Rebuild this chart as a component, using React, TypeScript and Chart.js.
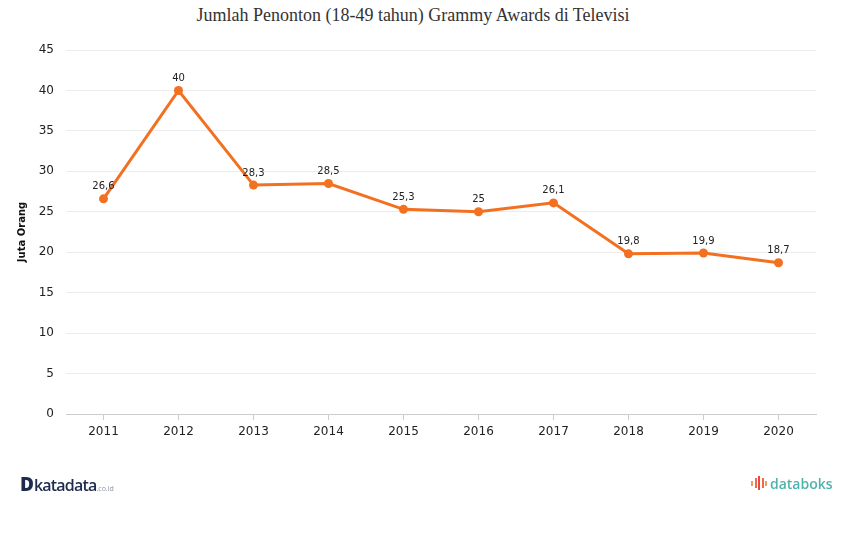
import React, { useEffect, useRef } from "react";
import { Chart, registerables } from "chart.js";

Chart.register(...registerables);

const TITLE = "Jumlah Penonton (18-49 tahun) Grammy Awards di Televisi";
const Y_TITLE = "Juta Orang";
const YEARS = ["2011", "2012", "2013", "2014", "2015", "2016", "2017", "2018", "2019", "2020"];
const VIEWERS = [26.6, 40, 28.3, 28.5, 25.3, 25, 26.1, 19.8, 19.9, 18.7];
const Y_MIN = 0;
const Y_MAX = 45;
const Y_STEP = 5;
const LINE_COLOR = "#f37021";

const labelPlugin = {
  id: "pointLabels",
  afterDatasetsDraw(chart: any) {
    const ctx = chart.ctx;
    const meta = chart.getDatasetMeta(0);
    const data = chart.data.datasets[0].data as number[];
    ctx.save();
    ctx.font = "10px 'DejaVu Sans', Verdana, sans-serif";
    ctx.fillStyle = "#222";
    ctx.textAlign = "center";
    ctx.textBaseline = "middle";
    meta.data.forEach((pt: any, i: number) => {
      const txt = String(data[i]).replace(".", ",");
      ctx.fillText(txt, pt.x, pt.y - 12);
    });
    ctx.restore();
  },
};

export default function App() {
  const canvasRef = useRef<HTMLCanvasElement | null>(null);

  useEffect(() => {
    if (!canvasRef.current) return;
    const chart = new Chart(canvasRef.current, {
      type: "line",
      data: {
        labels: YEARS,
        datasets: [
          {
            data: VIEWERS,
            borderColor: LINE_COLOR,
            backgroundColor: LINE_COLOR,
            borderWidth: 3,
            pointRadius: 4.5,
            pointBackgroundColor: LINE_COLOR,
            pointBorderColor: LINE_COLOR,
            pointBorderWidth: 0,
            tension: 0,
          },
        ],
      },
      options: {
        animation: false,
        responsive: true,
        maintainAspectRatio: false,
        layout: { padding: { top: 50, right: 35, bottom: 82, left: 0 } },
        plugins: {
          legend: { display: false },
          tooltip: { enabled: false },
          title: { display: false },
        },
        scales: {
          x: {
            type: "category",
            offset: true,
            grid: {
              display: true,
              drawOnChartArea: false,
              drawTicks: true,
              tickLength: 6,
              color: "#cccccc",
              offset: false,
            },
            border: { display: true, color: "#cccccc" },
            ticks: {
              color: "#222",
              font: { family: "'DejaVu Sans', Verdana, sans-serif", size: 12 },
              padding: 5,
              maxRotation: 0,
            },
            afterFit: (scale: any) => {
              scale.height = 40;
            },
          },
          y: {
            min: Y_MIN,
            max: Y_MAX,
            ticks: {
              stepSize: Y_STEP,
              color: "#222",
              padding: 12,
              font: { family: "'DejaVu Sans', Verdana, sans-serif", size: 12 },
            },
            grid: { color: "#ececec", drawTicks: false },
            border: { display: false },
            title: {
              display: true,
              text: Y_TITLE,
              color: "#111",
              font: { family: "'DejaVu Sans', Verdana, sans-serif", size: 10, weight: "bold" },
              padding: { top: 16, bottom: 0 },
            },
            afterFit: (scale: any) => {
              scale.width = 66;
            },
          },
        },
      },
      plugins: [labelPlugin],
    });
    return () => chart.destroy();
  }, []);

  return (
    <div
      style={{
        position: "fixed",
        left: 0,
        top: 0,
        width: 851,
        height: 536,
        background: "#fff",
        overflow: "hidden",
      }}
    >
      <div
        style={{
          position: "absolute",
          left: 0,
          width: 826,
          top: 3,
          textAlign: "center",
          fontFamily: "'Liberation Serif', 'Times New Roman', serif",
          fontSize: 18,
          color: "#333",
          lineHeight: "24px",
        }}
      >
        {TITLE}
      </div>
      <div style={{ position: "absolute", left: 0, top: 0, width: 851, height: 536 }}>
        <canvas ref={canvasRef} />
      </div>
      <div
        style={{
          position: "absolute",
          left: 20,
          top: 474,
          display: "flex",
          alignItems: "baseline",
          fontFamily: "'Open Sans', 'DejaVu Sans', sans-serif",
          color: "#1d2b4f",
        }}
      >
        <span style={{ fontWeight: 800, fontSize: 19, lineHeight: "20px", letterSpacing: -1 }}>D</span>
        <span style={{ fontWeight: 600, fontSize: 16, lineHeight: "20px", letterSpacing: -0.8, marginLeft: 1 }}>
          katadata
        </span>
        <span style={{ fontSize: 7, color: "#8a93a6", marginLeft: 0 }}>.co.id</span>
      </div>
      <div
        style={{
          position: "absolute",
          left: 751,
          top: 474,
          display: "flex",
          alignItems: "center",
          fontFamily: "'Open Sans', 'DejaVu Sans', sans-serif",
        }}
      >
        <span style={{ display: "flex", alignItems: "flex-start", gap: 1.5, height: 16, marginRight: 3 }}>
          <span style={{ width: 2, height: 5, marginTop: 5, background: "#f59a5a" }} />
          <span style={{ width: 2, height: 10, marginTop: 2, background: "#ef6a4c" }} />
          <span style={{ width: 2, height: 14, background: "#e8483f" }} />
          <span style={{ width: 2, height: 10, marginTop: 2, background: "#ef6a4c" }} />
          <span style={{ width: 2, height: 5, marginTop: 5, background: "#f59a5a" }} />
        </span>
        <span style={{ fontWeight: 600, fontSize: 14, color: "#4fb3ad", lineHeight: "20px" }}>databoks</span>
      </div>
    </div>
  );
}
